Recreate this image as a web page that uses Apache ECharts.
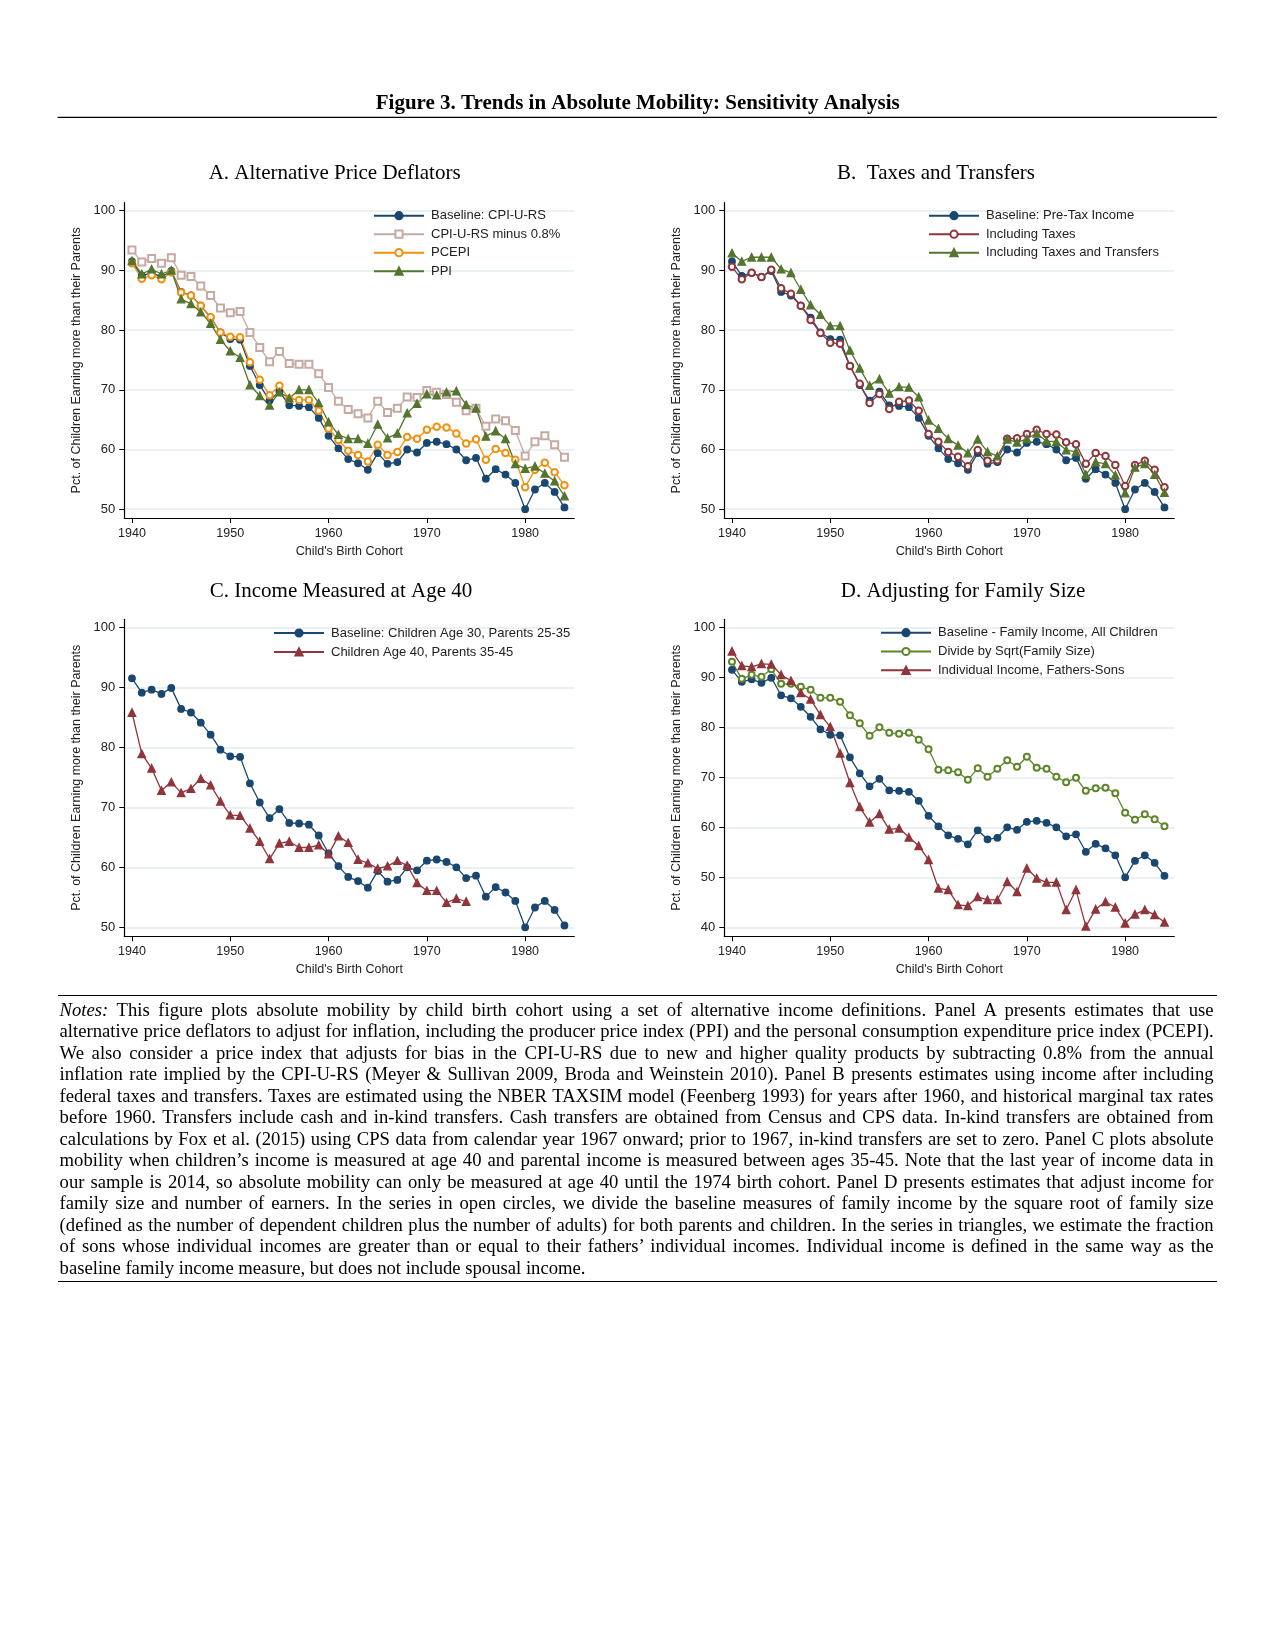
<!DOCTYPE html>
<html>
<head>
<meta charset="utf-8">
<script src="https://cdn.jsdelivr.net/npm/echarts@6/dist/echarts.min.js"></script>
<style>
  html, body { margin: 0; padding: 0; background: #fff; }
  #page { position: relative; width: 1275px; height: 1650px; background: #fff; }
  #chart { position: absolute; left: 0; top: 0; width: 1275px; height: 1000px; }
  #notes { position: absolute; left: 57.6px; top: 994.5px; width: 1159px; border-top: 1.3px solid #000; border-bottom: 1.3px solid #000; height: 287px; box-sizing: border-box; }
  .nl { position: absolute; left: 2px; width: 1154px; height: 21.5px; line-height: 21.5px; font-family: 'Liberation Serif', 'Times New Roman', serif; font-size: 18.67px; color: #000; white-space: nowrap; text-align: justify; text-align-last: justify; }
  .nl.last { text-align: left; text-align-last: left; }
</style>
</head>
<body>
<div id="page">
  <div id="chart"></div>
  <div id="notes"></div>
</div>
<script>
// ---------------- DATA ----------------
const years = [1940,1941,1942,1943,1944,1945,1946,1947,1948,1949,1950,1951,1952,1953,1954,1955,1956,1957,1958,1959,1960,1961,1962,1963,1964,1965,1966,1967,1968,1969,1970,1971,1972,1973,1974,1975,1976,1977,1978,1979,1980,1981,1982,1983,1984];
const xTicks = [1940,1950,1960,1970,1980];
const yTicksABC = [50,60,70,80,90,100];
const yTicksD = [40,50,60,70,80,90,100];

const baseline = [91.5,89.1,89.6,88.9,89.9,86.4,85.8,84.1,82.1,79.6,78.5,78.4,74.0,70.8,68.2,69.7,67.4,67.3,67.1,65.3,62.3,60.2,58.4,57.7,56.6,59.4,57.6,57.9,60.0,59.5,61.1,61.3,60.9,60.0,58.2,58.6,55.1,56.7,55.8,54.4,50.0,53.3,54.4,52.9,50.3];

// Panel A
const cpiMinus = [93.4,91.4,92.0,91.2,92.1,89.2,89.0,87.4,85.8,83.7,82.9,83.1,79.6,77.1,74.7,76.4,74.4,74.3,74.3,72.7,70.4,68.1,66.7,66.0,65.3,68.1,66.2,66.9,68.8,68.7,69.9,69.6,69.2,67.9,66.5,66.9,63.9,65.1,64.8,63.2,58.9,61.3,62.3,60.8,58.7];
const pcepi = [91.2,88.6,89.2,88.5,89.7,86.3,85.8,84.1,82.2,79.6,78.9,78.8,74.6,71.7,69.1,70.7,68.5,68.3,68.3,66.5,63.5,61.6,59.8,59.1,58.0,60.8,59.1,59.6,62.1,61.8,63.3,63.8,63.7,62.7,61.0,61.7,58.3,60.1,59.4,58.3,53.7,56.6,57.8,56.2,54.0];
const ppi = [91.6,89.4,90.2,89.4,90.0,85.2,84.4,83.0,81.1,78.4,76.5,75.4,70.8,69.0,67.4,69.6,68.6,70.0,70.0,67.8,64.6,62.5,61.8,61.8,61.0,64.2,61.9,62.7,66.1,67.7,69.3,69.1,69.6,69.8,67.5,66.9,62.2,63.1,61.8,57.6,56.8,57.2,56.0,54.7,52.2];

// Panel B
const inclTaxes = [90.6,88.5,89.6,88.9,90.1,87.0,86.1,84.1,81.7,79.5,77.9,77.7,74.0,71.0,67.8,69.3,66.8,68.0,68.2,66.5,62.6,61.3,59.6,58.8,57.2,59.9,58.1,58.2,61.8,61.9,62.6,63.3,62.6,62.5,61.2,60.9,57.6,59.4,58.9,57.4,53.9,57.4,58.1,56.6,53.7];
const inclTransfers = [92.9,91.5,92.2,92.2,92.2,90.2,89.6,86.8,84.2,82.6,80.7,80.7,76.6,73.6,70.7,71.8,69.4,70.5,70.4,68.8,64.9,63.5,61.8,60.7,59.4,61.7,59.6,58.9,61.7,61.2,61.8,62.7,61.4,61.3,59.9,59.6,55.8,57.9,57.6,55.7,52.7,57.0,57.6,55.8,52.8];

// Panel C (1940-1974 only)
const age40 = [85.8,78.9,76.5,72.8,74.2,72.4,73.1,74.8,73.7,71.0,68.7,68.6,66.5,64.3,61.4,64.0,64.3,63.3,63.3,63.7,62.2,65.2,64.1,61.3,60.7,59.8,60.2,61.1,60.3,57.4,56.1,56.1,54.1,54.8,54.3];

// Panel D
const sqrtFamily = [93.1,89.7,90.5,90.1,91.6,88.7,88.7,88.1,87.5,85.9,85.9,85.1,82.4,80.8,78.3,80.0,78.9,78.7,78.9,77.5,75.6,71.5,71.4,71.0,69.5,71.8,70.1,71.7,73.4,72.1,74.1,71.9,71.7,70.1,69.0,69.9,67.3,67.8,67.9,66.8,62.9,61.5,62.6,61.6,60.2];
const fathersSons = [95.2,92.3,92.1,92.7,92.6,90.5,89.3,86.9,85.6,82.5,80.1,74.8,68.9,64.1,61.0,62.7,59.6,59.8,58.0,56.3,53.5,47.8,47.5,44.5,44.3,46.1,45.5,45.5,49.1,47.1,51.8,49.8,49.0,49.0,43.5,47.5,40.2,43.6,45.1,44.0,40.8,42.6,43.5,42.5,41.0];

const notesLines = [
  "<i>Notes:</i> This figure plots absolute mobility by child birth cohort using a set of alternative income definitions. Panel A presents estimates that use",
  "alternative price deflators to adjust for inflation, including the producer price index (PPI) and the personal consumption expenditure price index (PCEPI).",
  "We also consider a price index that adjusts for bias in the CPI-U-RS due to new and higher quality products by subtracting 0.8% from the annual",
  "inflation rate implied by the CPI-U-RS (Meyer &amp; Sullivan 2009, Broda and Weinstein 2010). Panel B presents estimates using income after including",
  "federal taxes and transfers. Taxes are estimated using the NBER TAXSIM model (Feenberg 1993) for years after 1960, and historical marginal tax rates",
  "before 1960. Transfers include cash and in-kind transfers. Cash transfers are obtained from Census and CPS data. In-kind transfers are obtained from",
  "calculations by Fox et al. (2015) using CPS data from calendar year 1967 onward; prior to 1967, in-kind transfers are set to zero. Panel C plots absolute",
  "mobility when children\u2019s income is measured at age 40 and parental income is measured between ages 35-45. Note that the last year of income data in",
  "our sample is 2014, so absolute mobility can only be measured at age 40 until the 1974 birth cohort. Panel D presents estimates that adjust income for",
  "family size and number of earners. In the series in open circles, we divide the baseline measures of family income by the square root of family size",
  "(defined as the number of dependent children plus the number of adults) for both parents and children. In the series in triangles, we estimate the fraction",
  "of sons whose individual incomes are greater than or equal to their fathers\u2019 individual incomes. Individual income is defined in the same way as the",
  "baseline family income measure, but does not include spousal income."
];

// ---------------- STYLE ----------------
const NAVY = '#1a476f', ROSE = '#c6a9a3', ORANGE = '#f0900c', GREEN = '#55752f', MAROON = '#90353b', OLIVE = '#5d8529';
const SANS = "'Liberation Sans', Arial, sans-serif";
const SERIF = "'Liberation Serif', 'Times New Roman', serif";

function pairs(vals) { return vals.map((v, i) => [years[i], v]); }

const gridDefs = [
  { left: 124.3, top: 202.7, width: 450, height: 315.3, ymin: 48.53, ymax: 101.34, yt: yTicksABC },
  { left: 724.3, top: 202.7, width: 450, height: 315.3, ymin: 48.53, ymax: 101.34, yt: yTicksABC },
  { left: 124.3, top: 619.3, width: 450, height: 317, ymin: 48.5, ymax: 101.33, yt: yTicksABC },
  { left: 724.3, top: 619.3, width: 450, height: 317, ymin: 38.2, ymax: 101.6, yt: yTicksD }
];

const grids = gridDefs.map(g => ({ left: g.left, top: g.top, width: g.width, height: g.height, containLabel: false, outerBoundsMode: 'none' }));
const xAxes = gridDefs.map((g, i) => ({
  type: 'value', gridIndex: i, min: 1939.22, max: 1985.0,
  axisLine: { show: true, onZero: false, lineStyle: { color: '#000', width: 1.2 } },
  axisTick: { show: true, length: 5, customValues: xTicks, lineStyle: { color: '#000', width: 1 } },
  axisLabel: { customValues: xTicks, margin: 9, fontSize: 12.5, color: '#222', fontFamily: SANS, formatter: v => String(v) },
  splitLine: { show: false },
  name: "Child's Birth Cohort", nameLocation: 'middle', nameGap: 27,
  nameTextStyle: { fontSize: 12.5, color: '#222', fontFamily: SANS }
}));
const yAxes = gridDefs.map((g, i) => ({
  type: 'value', gridIndex: i, min: g.ymin, max: g.ymax,
  axisLine: { show: true, onZero: false, lineStyle: { color: '#000', width: 1.2 } },
  axisTick: { show: true, length: 5, customValues: g.yt, lineStyle: { color: '#000', width: 1 } },
  axisLabel: { customValues: g.yt, margin: 9, fontSize: 13, color: '#222', fontFamily: SANS, formatter: v => String(v) },
  splitLine: { show: true, lineStyle: { color: '#e4ecef', width: 1.6 } },
  name: 'Pct. of Children Earning more than their Parents', nameLocation: 'middle', nameGap: 41, nameRotate: 90,
  nameTextStyle: { fontSize: 12.5, color: '#222', fontFamily: SANS }
}));

function line(name, vals, idx, color, symbol, size) {
  return {
    type: 'line', name: name, xAxisIndex: idx, yAxisIndex: idx, data: pairs(vals),
    symbol: symbol, symbolSize: size, showSymbol: true,
    lineStyle: { color: color, width: 1.3 },
    itemStyle: { color: color, borderColor: color, borderWidth: 1.3 },
    emphasis: { disabled: true }, animation: false, z: 2
  };
}

const series = [
  line('Baseline: CPI-U-RS', baseline, 0, NAVY, 'circle', 6.5),
  line('CPI-U-RS minus 0.8%', cpiMinus, 0, ROSE, 'emptyRect', 7),
  line('PCEPI', pcepi, 0, ORANGE, 'emptyCircle', 6.5),
  line('PPI', ppi, 0, GREEN, 'triangle', 7.5),

  line('Baseline: Pre-Tax Income', baseline, 1, NAVY, 'circle', 6.5),
  line('Including Taxes', inclTaxes, 1, MAROON, 'emptyCircle', 6.5),
  line('Including Taxes and Transfers', inclTransfers, 1, GREEN, 'triangle', 7.5),

  line('Baseline: Children Age 30, Parents 25-35', baseline, 2, NAVY, 'circle', 6.5),
  line('Children Age 40, Parents 35-45', age40, 2, MAROON, 'triangle', 7.5),

  line('Baseline - Family Income, All Children', baseline, 3, NAVY, 'circle', 6.5),
  line('Divide by Sqrt(Family Size)', sqrtFamily, 3, OLIVE, 'emptyCircle', 6),
  line('Individual Income, Fathers-Sons', fathersSons, 3, MAROON, 'triangle', 7.5)
];

function legend(names, left, top, gap) {
  return {
    data: names, left: left, top: top, orient: 'vertical', padding: 0,
    itemWidth: 50, itemHeight: 9, itemGap: gap, selectedMode: false,
    textStyle: { fontSize: 13, color: '#222', fontFamily: SANS, lineHeight: 14, padding: [0, 0, 0, 2] }
  };
}

const legends = [
  legend(['Baseline: CPI-U-RS', 'CPI-U-RS minus 0.8%', 'PCEPI', 'PPI'], 373, 208.7, 4.5),
  legend(['Baseline: Pre-Tax Income', 'Including Taxes', 'Including Taxes and Transfers'], 928, 208.7, 4.5),
  legend(['Baseline: Children Age 30, Parents 25-35', 'Children Age 40, Parents 35-45'], 273, 626, 5),
  legend(['Baseline - Family Income, All Children', 'Divide by Sqrt(Family Size)', 'Individual Income, Fathers-Sons'], 880, 625.7, 4.8)
];

function txt(s, x, y, size, weight) {
  return { type: 'text', x: x, y: y, silent: true,
    style: { text: s, fontFamily: SERIF, fontSize: size, fontWeight: weight || 'normal', fill: '#000', align: 'center', verticalAlign: 'middle' } };
}

const graphic = [
  txt('Figure 3. Trends in Absolute Mobility: Sensitivity Analysis', 637.7, 103.7, 21, 'bold'),
  { type: 'line', silent: true, shape: { x1: 57.6, y1: 117.3, x2: 1216.8, y2: 117.3 }, style: { stroke: '#000', lineWidth: 1.3 } },
  txt('A. Alternative Price Deflators', 334.6, 173, 21),
  txt('B.  Taxes and Transfers', 936, 173, 21),
  txt('C. Income Measured at Age 40', 341, 591, 21),
  txt('D. Adjusting for Family Size', 963, 591, 21)
];

const chart = echarts.init(document.getElementById('chart'), null, { renderer: 'canvas' });
chart.setOption({
  backgroundColor: '#fff',
  animation: false,
  grid: grids, xAxis: xAxes, yAxis: yAxes, series: series, legend: legends, graphic: graphic
});

// notes
const notes = document.getElementById('notes');
notesLines.forEach((l, i) => {
  const d = document.createElement('div');
  d.className = 'nl' + (i === notesLines.length - 1 ? ' last' : '');
  d.style.top = (3.4 + i * 21.5) + 'px';
  d.innerHTML = l;
  notes.appendChild(d);
});
</script>
</body>
</html>
